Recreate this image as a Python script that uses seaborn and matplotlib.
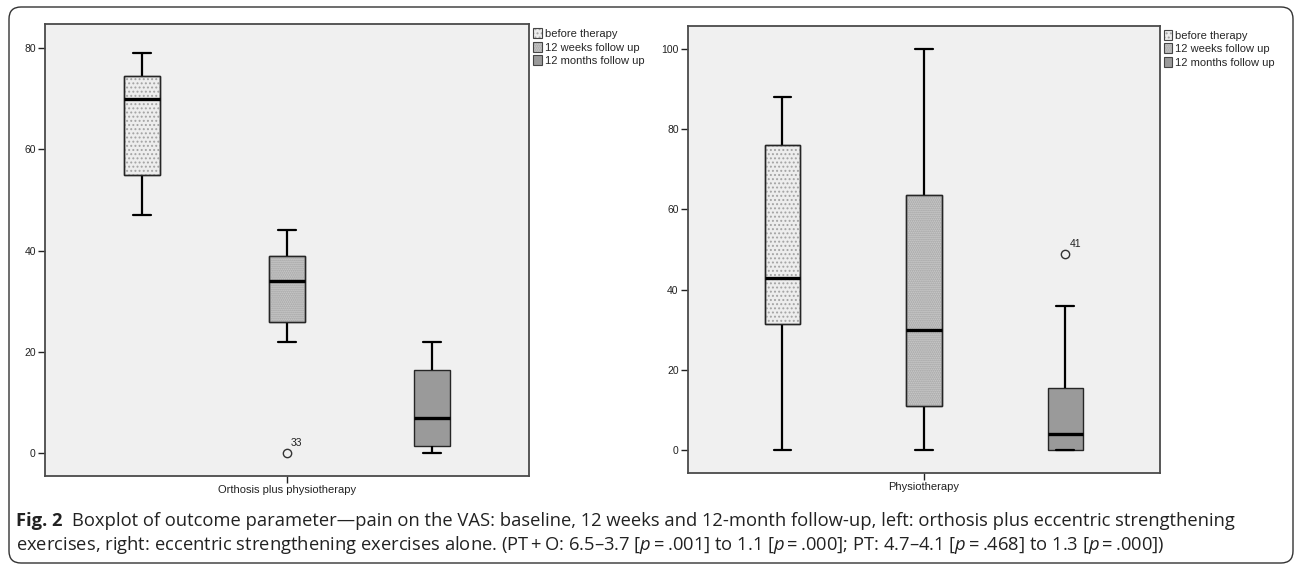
import pandas as pd
import matplotlib.pyplot as plt
import seaborn as sns
from matplotlib.patches import Patch, PathPatch, FancyBboxPatch
from matplotlib.legend_handler import HandlerTuple

# --- data (VAS pain, 0-100) ---
timepoints = ["before therapy", "12 weeks follow up", "12 months follow up"]
groups = ["Orthosis plus physiotherapy", "Physiotherapy"]

# five-number summaries per timepoint: lower whisker, Q1, median, Q3, upper whisker
orthosis_low = [47, 22, 0]
orthosis_q1 = [55, 26, 1.5]
orthosis_median = [70, 34, 7]
orthosis_q3 = [74.5, 39, 16.5]
orthosis_high = [79, 44, 22]

physio_low = [0, 0, 0]
physio_q1 = [31.5, 11, 0]
physio_median = [43, 30, 4]
physio_q3 = [76, 63.5, 15.5]
physio_high = [88, 100, 36]

# outliers (timepoint, value, case number)
orthosis_outliers = [("12 weeks follow up", 0, "33")]
physio_outliers = [("12 months follow up", 49, "41")]

y_ticks_left = [0, 20, 40, 60, 80]
y_ticks_right = [0, 20, 40, 60, 80, 100]

fills = ["#ededed", "#cacaca", "#9a9a9a"]
hatches = ["....", "........", ""]
hatch_colors = ["#a3a3a3", "#a0a0a0", "#9a9a9a"]


def build_frame(group, low, q1, med, q3, high):
    rows = []
    for i, tp in enumerate(timepoints):
        for v in (low[i], q1[i], med[i], q3[i], high[i]):
            rows.append({"group": group, "timepoint": tp, "pain": v})
    return pd.DataFrame(rows)


def draw_panel(ax, df, outliers, ylim, yticks):
    ax.set_facecolor("#f0f0f0")
    sns.boxplot(data=df, x="group", y="pain", hue="timepoint",
                hue_order=timepoints, palette=fills, saturation=1,
                width=0.8, gap=0.75, whis=(0, 100), dodge=True,
                linecolor="#262626", linewidth=1.0, legend=False, ax=ax,
                whiskerprops={"color": "black", "linewidth": 1.6},
                capprops={"color": "black", "linewidth": 1.6},
                medianprops={"color": "black", "linewidth": 2.4})

    boxes = [p for p in ax.patches if isinstance(p, PathPatch)]
    centers = {}
    for tp, box, hatch, hc in zip(timepoints, boxes, hatches, hatch_colors):
        xs = box.get_path().vertices[:, 0]
        centers[tp] = (xs.min() + xs.max()) / 2
        if hatch:
            over = PathPatch(box.get_path(), transform=box.get_transform(),
                             facecolor="none", edgecolor=hc, linewidth=0,
                             hatch=hatch, zorder=box.get_zorder() + 0.01)
            ax.add_patch(over)
            # keep the dark outline on top of the hatch
            edge = PathPatch(box.get_path(), transform=box.get_transform(),
                             facecolor="none", edgecolor="#262626",
                             linewidth=1.0, zorder=box.get_zorder() + 0.02)
            ax.add_patch(edge)

    for tp, val, case in outliers:
        ax.plot([centers[tp]], [val], marker="o", ms=6, mfc="none",
                mec="#333333", mew=1.0, ls="none", zorder=5)
        ax.annotate(case, (centers[tp], val), xytext=(4, 5),
                    textcoords="offset pixels", ha="left", va="bottom",
                    fontsize=7.5, color="#222222")

    ax.set_xlim(-0.445, 0.445)
    ax.set_ylim(*ylim)
    ax.set_yticks(yticks)
    ax.set_xlabel("")
    ax.set_ylabel("")
    ax.tick_params(axis="both", left=True, bottom=True, labelsize=7.5,
                   length=5, width=1.0, pad=1.5, colors="#222222")
    ax.tick_params(axis="x", labelsize=8)
    for s in ax.spines.values():
        s.set_visible(True)
        s.set_color("#4a4a4a")
        s.set_linewidth(1.3)

    handles = [(Patch(facecolor=f, edgecolor=hc, hatch=h, linewidth=0),
                Patch(facecolor="none", edgecolor="#444444", linewidth=0.8))
               for f, h, hc in zip(fills, hatches, hatch_colors)]
    ax.legend(handles, timepoints, loc="upper left", bbox_to_anchor=(1.0, 1.0),
              handler_map={tuple: HandlerTuple(ndivide=1)},
              frameon=False, fontsize=8, handlelength=0.75, handleheight=1.0,
              handletextpad=0.3, labelspacing=0.25, borderaxespad=0.15,
              borderpad=0.2)


sns.set_style("white")
plt.rcParams["font.family"] = ["Liberation Sans", "DejaVu Sans"]
plt.rcParams["hatch.linewidth"] = 0.9
plt.rcParams["mathtext.fontset"] = "custom"
plt.rcParams["mathtext.it"] = "Open Sans:italic"
plt.rcParams["mathtext.rm"] = "Open Sans"

left_df = build_frame(groups[0], orthosis_low, orthosis_q1, orthosis_median,
                      orthosis_q3, orthosis_high)
right_df = build_frame(groups[1], physio_low, physio_q1, physio_median,
                       physio_q3, physio_high)

fig = plt.figure(figsize=(12.95, 5.66), dpi=100)
ax1 = fig.add_axes([0.0346, 0.1595, 0.3742, 0.7976])
ax2 = fig.add_axes([0.5311, 0.1648, 0.3646, 0.7893])

draw_panel(ax1, left_df, orthosis_outliers, (-4.4, 84.7), y_ticks_left)
draw_panel(ax2, right_df, physio_outliers, (-5.6, 105.7), y_ticks_right)

# rounded frame around the whole figure
frame = FancyBboxPatch((0.09, 0.03), 12.84, 5.56,
                       boxstyle="round,pad=0,rounding_size=0.12",
                       transform=fig.dpi_scale_trans, facecolor="none",
                       edgecolor="#333333", linewidth=1.0)
fig.patches.append(frame)

# caption
cap_font = ["Open Sans", "DejaVu Sans"]
cap_size = 13.2
thin = "\u2009"
label = fig.text(16 / 1295, 1 - 521 / 566, "Fig. 2", fontsize=cap_size,
                 fontweight="bold", family=cap_font, va="center", color="#222222")
line1 = ("Boxplot of outcome parameter\u2014pain on the VAS: baseline, 12 weeks and "
         "12-month follow-up, left: orthosis plus eccentric strengthening")
line2 = ("exercises, right: eccentric strengthening exercises alone. "
         f"(PT{thin}+{thin}O: 6.5\u20133.7 [$p${thin}={thin}.001] to 1.1 "
         f"[$p${thin}={thin}.000]; PT: 4.7\u20134.1 [$p${thin}={thin}.468] "
         f"to 1.3 [$p${thin}={thin}.000])")
ax1.annotate(line1, xy=(1, 0.5), xycoords=label, xytext=(9, 0),
             textcoords="offset pixels", va="center", ha="left",
             fontsize=cap_size, family=cap_font, color="#222222",
             annotation_clip=False)
fig.text(16 / 1295, 1 - 545 / 566, line2, fontsize=cap_size, family=cap_font,
         va="center", color="#222222")

fig.savefig("out.png", dpi=100)
